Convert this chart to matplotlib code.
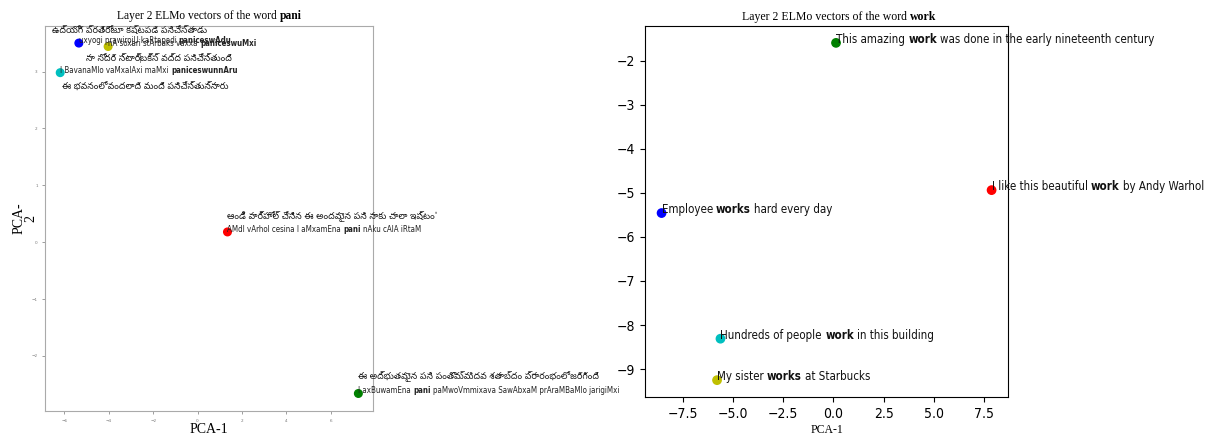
import matplotlib
matplotlib.use('Agg')
import matplotlib.pyplot as plt

# Layer 2 ELMo vectors projected with PCA
colors = ['b', 'y', 'c', 'r', 'g']

pani_x = [-5.35, -4.03, -6.19, 1.35, 7.25]
pani_y = [3.50, 3.44, 2.98, 0.18, -2.66]
pani_roman = [
    ('uxyogi prawirojU kaRtapadi', 'paniceswAdu', ''),
    ('nA soxari stArbaks vaxxa', 'paniceswuMxi', ''),
    ('I BavanaMlo vaMxalAxi maMxi', 'paniceswunnAru', ''),
    ('AMdI vArhol cesina I aMxamEna', 'pani', 'nAku cAlA iRtaM'),
    ('I axBuwamEna', 'pani', 'paMwoVmmixava SawAbxaM prAraMBaMlo jarigiMxi'),
]
pani_telugu = [
    'ఉద్యోగి ప్రతిరోజూ కష్టపడి పనిచేస్తాడు',
    'నా సోదరి స్టార్‌బక్స్ వద్ద పనిచేస్తుంది',
    'ఈ భవనంలో వందలాది మంది పనిచేస్తున్నారు',
    "ఆండీ వార్హోల్ చేసిన ఈ అందమైన పని నాకు చాలా ఇష్టం'",
    'ఈ అద్భుతమైన పని పంతొమ్మిదవ శతాబ్దం ప్రారంభంలో జరిగింది',
]
telugu_offsets = [(-27, 10), (-22, -15), (2, -17), (0, 13), (0, 14)]

work_x = [-8.55, -5.79, -5.62, 7.87, 0.13]
work_y = [-5.46, -9.25, -8.31, -4.94, -1.60]
work_sentences = [
    ('Employee', 'works', 'hard every day'),
    ('My sister', 'works', 'at Starbucks'),
    ('Hundreds of people', 'work', 'in this building'),
    ('I like this beautiful', 'work', 'by Andy Warhol'),
    ('This amazing', 'work', 'was done in the early nineteenth century'),
]

fig = plt.figure(figsize=(12.08, 4.37), dpi=100)
renderer = fig.canvas.get_renderer()

sans = dict(family='DejaVu Sans', fontstretch='condensed')
serif = dict(family='Liberation Serif')
telugu = ['Noto Sans Telugu', 'Noto Serif Telugu', 'DejaVu Sans']


def text_width(s, **kw):
    t = fig.text(0, 0, '|' + s + '|', **kw)
    w = t.get_window_extent(renderer).width
    t.remove()
    t = fig.text(0, 0, '||', **kw)
    w -= t.get_window_extent(renderer).width
    t.remove()
    return w


def rich_text(ax, xy, pieces, xycoords='data', ha='left', offset=(0, 0), **kw):
    # pieces: list of (text, weight); pieces are joined with a single space
    pieces = [(s, w) for s, w in pieces if s]
    widths = [text_width(s, fontweight=w, **kw) for s, w in pieces]
    space = text_width(' ', **kw)
    total = sum(widths) + space * (len(pieces) - 1)
    dx = offset[0] - (total / 2 if ha == 'center' else 0)
    for (s, w), width in zip(pieces, widths):
        ax.annotate(s, xy, xycoords=xycoords, xytext=(dx, offset[1]),
                    textcoords='offset pixels', fontweight=w,
                    annotation_clip=False, **kw)
        dx += width + space


# left: Telugu sentences with the word "pani"
ax1 = fig.add_axes([0.0375, 0.0595, 0.2715, 0.882])
ax1.scatter(pani_x, pani_y, c=colors, s=30, zorder=3)
for x, y, (pre, word, post), tel, off in zip(pani_x, pani_y, pani_roman,
                                              pani_telugu, telugu_offsets):
    rich_text(ax1, (x, y), [(pre, 'normal'), (word, 'bold'), (post, 'normal')],
              fontsize=5.7, color='#222222', **sans)
    ax1.annotate(tel, (x, y), xytext=off, textcoords='offset pixels',
                 fontsize=6.6, color='#222222', annotation_clip=False,
                 family=telugu)
ax1.set_xticks([-6, -4, -2, 0, 2, 4, 6])
ax1.set_yticks([-2, -1, 0, 1, 2, 3])
ax1.tick_params(labelsize=3, colors='#777777', length=2, width=0.5)
for sp in ax1.spines.values():
    sp.set_color('#aaaaaa')
    sp.set_linewidth(0.8)
ax1.set_xlabel('PCA-1', fontsize=10, labelpad=0, **serif)
ax1.set_ylabel('PCA-\n2', fontsize=10, labelpad=-4, linespacing=0.9, **serif)
rich_text(ax1, (0.5, 1.0), [('Layer 2 ELMo vectors of the word', 'normal'),
                            ('pani', 'bold')],
          xycoords='axes fraction', ha='center', offset=(0, 7),
          fontsize=8.3, **serif)

# right: English sentences with the word "work"
ax2 = fig.add_axes([0.534, 0.0915, 0.3005, 0.849])
ax2.scatter(work_x, work_y, c=colors, s=36, zorder=3)
for x, y, (pre, word, post) in zip(work_x, work_y, work_sentences):
    rich_text(ax2, (x, y), [(pre, 'normal'), (word, 'bold'), (post, 'normal')],
              fontsize=8.3, color='#111111', **sans)
ax2.tick_params(labelsize=10)
for lab in ax2.get_xticklabels() + ax2.get_yticklabels():
    lab.set_fontstretch('condensed')
ax2.set_xlabel('PCA-1', fontsize=8.5, labelpad=2, **serif)
rich_text(ax2, (0.5, 1.0), [('Layer 2 ELMo vectors of the word', 'normal'),
                            ('work', 'bold')],
          xycoords='axes fraction', ha='center', offset=(13, 6),
          fontsize=8.5, **serif)

fig.savefig('out.png', dpi=100)
